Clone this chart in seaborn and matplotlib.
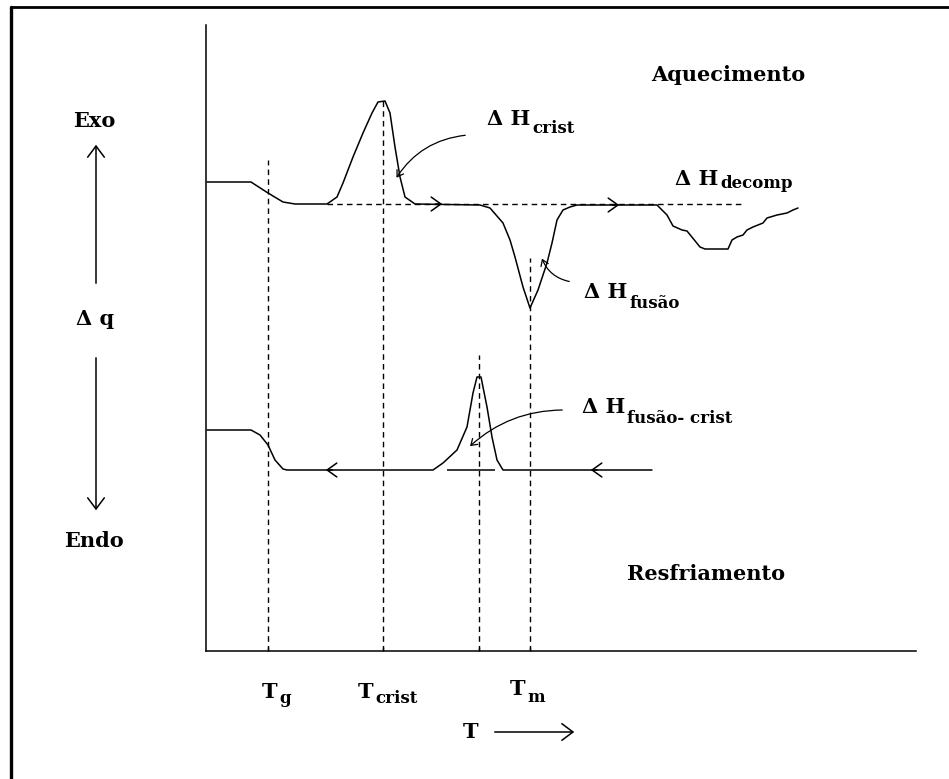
import matplotlib
matplotlib.use("Agg")
import matplotlib.pyplot as plt
from matplotlib.lines import Line2D
import pandas as pd
import seaborn as sns

# ---- DSC thermogram (schematic): temperature T vs. heat flow dq ----
# heating run (aquecimento)
heat_T = [1, 45, 62, 77, 89, 121, 131, 137, 147, 157, 166, 172, 179, 184, 189,
          194, 199, 209, 274, 284, 297, 304, 309, 317, 324, 332, 341, 346, 351,
          357, 364, 371, 451, 461, 467, 476, 481, 494, 499, 522, 526, 531, 537,
          541, 547, 557, 561, 571, 581, 587, 592]
heat_q = [469, 469, 458, 449, 447, 447, 454, 468, 494, 518, 538, 549, 550, 538,
          504, 474, 454, 447, 446, 443, 428, 411, 394, 364, 343, 361, 388, 408,
          431, 441, 444, 446, 446, 436, 425, 421, 420, 404, 402, 402, 411, 414,
          416, 421, 424, 428, 433, 436, 438, 441, 443]

# cooling run (resfriamento)
cool_T = [1, 45, 54, 62, 69, 77, 81, 227, 237, 251, 261, 267, 271, 275, 281,
          286, 291, 297, 446]
cool_q = [221, 221, 216, 206, 191, 182, 181, 181, 188, 201, 224, 258, 274, 274,
          244, 214, 191, 181, 181]

# characteristic temperatures and the level where each guide line starts
temp_ticks = [62, 177, 273, 324]          # Tg, Tcrist, cooling peak, Tm
guide_top = [491, 551, 296, 393]

# extrapolated baselines
heat_base_q, heat_base_T = 447, (121, 536)
cool_base_q, cool_base_T = 181, (241, 289)

sns.set_style("white")
plt.rcParams["font.family"] = ["DejaVu Serif"]
plt.rcParams["font.weight"] = "bold"

fig = plt.figure(figsize=(9.49, 7.79), dpi=100)
fig.patch.set_facecolor("white")
ax = fig.add_axes([206 / 949, 128 / 779, 710 / 949, 626 / 779])
ax.set_xlim(0, 710)
ax.set_ylim(0, 626)

df_heat = pd.DataFrame({"T": heat_T, "q": heat_q})
df_cool = pd.DataFrame({"T": cool_T, "q": cool_q})
sns.lineplot(data=df_heat, x="T", y="q", ax=ax, color="black", lw=1.1,
             estimator=None, sort=False)
sns.lineplot(data=df_cool, x="T", y="q", ax=ax, color="black", lw=1.1,
             estimator=None, sort=False)

# dashed guides
ax.vlines(temp_ticks, 0, guide_top, colors="black", lw=1.0,
          linestyles=(0, (4, 3)))
ax.hlines(heat_base_q, *heat_base_T, colors="black", lw=1.0,
          linestyles=(0, (4, 3)))
ax.hlines(cool_base_q, *cool_base_T, colors="black", lw=1.1)

# axes frame
for side in ("top", "right"):
    ax.spines[side].set_visible(False)
for side in ("left", "bottom"):
    ax.spines[side].set_color("black")
    ax.spines[side].set_linewidth(1.1)
ax.set_xticks(temp_ticks)
ax.set_xticklabels([])
ax.set_yticks([])
ax.tick_params(axis="x", bottom=True, direction="in", length=3, width=1,
               color="black")
ax.set_xlabel("")
ax.set_ylabel("")

# direction arrows along the curves
chev = dict(arrowstyle="->,head_length=0.35,head_width=0.25", lw=1.1,
            color="black", mutation_scale=20)
for tip, q, d in [(239, 447, 1), (416, 446, 1), (117, 181, -1), (382, 181, -1)]:
    ax.annotate("", xy=(tip, q), xytext=(tip - 12 * d, q), arrowprops=chev)

# curved pointers to the enthalpy labels
ptr = dict(arrowstyle="->,head_length=0.3,head_width=0.2", lw=0.9,
           color="black", mutation_scale=14)
ax.annotate("", xy=(189, 471), xytext=(262, 516),
            arrowprops=dict(ptr, connectionstyle="arc3,rad=0.25"))
ax.annotate("", xy=(335, 395), xytext=(366, 369),
            arrowprops=dict(ptr, connectionstyle="arc3,rad=-0.3"))
ax.annotate("", xy=(262, 203), xytext=(359, 241),
            arrowprops=dict(ptr, connectionstyle="arc3,rad=0.2"))

FS, FS_SUB = 15, 12


def label(x, y, main, sub=None, sub_dy=-8, size=FS, ha="left"):
    t = ax.text(x, y, main, fontsize=size, fontweight="bold", ha=ha,
                va="baseline", color="black")
    if sub:
        ax.annotate(sub, xy=(1.0, y), xycoords=(t, "data"),
                    xytext=(1.5, sub_dy * 0.72), textcoords="offset points",
                    fontsize=FS_SUB, fontweight="bold", ha="left",
                    va="baseline", color="black")
    return t


label(522, 570, "Aquecimento", ha="center")
label(500, 71, "Resfriamento", ha="center")
label(-112, 524, "Exo", ha="center")
label(-112, 104, "Endo", ha="center")
label(-130, 326, "Δ q")

label(281, 526, "Δ H", "crist")
label(469, 466, "Δ H", "decomp", sub_dy=-3)
label(378, 353, "Δ H", "fusão", sub_dy=-10)
label(376, 238, "Δ H", "fusão- crist", sub_dy=-10)

label(56, -47, "T", "g", sub_dy=-5)
label(152, -47, "T", "crist", sub_dy=-5)
label(304, -44, "T", "m", sub_dy=-7)
label(257, -87, "T")

axis_arrow = dict(arrowstyle="->,head_length=0.4,head_width=0.3", lw=1.1,
                  color="black", mutation_scale=20)
ax.annotate("", xy=(371, -81), xytext=(286, -81), arrowprops=axis_arrow,
            annotation_clip=False)
ax.annotate("", xy=(-110, 509), xytext=(-110, 365), arrowprops=axis_arrow,
            annotation_clip=False)
ax.annotate("", xy=(-110, 138), xytext=(-110, 296), arrowprops=axis_arrow,
            annotation_clip=False)

# page frame (left and top rules)
fig.add_artist(Line2D([11 / 949, 11 / 949], [0, 1 - 7 / 779],
                      transform=fig.transFigure, color="black", lw=2.4))
fig.add_artist(Line2D([11 / 949, 1], [1 - 7 / 779, 1 - 7 / 779],
                      transform=fig.transFigure, color="black", lw=2.0))

fig.savefig("out.png", dpi=100, facecolor="white")
